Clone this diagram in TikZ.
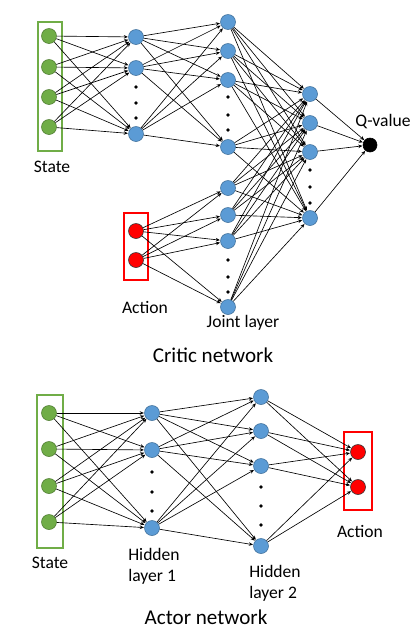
\documentclass[tikz,border=0pt]{standalone}
\usepackage{fontspec}
\setmainfont{Carlito}
\usetikzlibrary{arrows.meta,positioning}
\definecolor{nnGreen}{HTML}{70AD47}
\definecolor{nnGreenDark}{HTML}{507E32}
\definecolor{nnBlue}{HTML}{5B9BD5}
\definecolor{nnBlueDark}{HTML}{41719C}
\definecolor{nnRed}{HTML}{FF0000}

\begin{document}
\begin{tikzpicture}[
    x=0.03cm, y=-0.03cm,
    every node/.style={font=\fontsize{15}{18}\selectfont},
    neuron/.style={circle, minimum size=0.45cm, inner sep=0pt, line width=0.5pt},
    instate/.style={neuron, fill=nnGreen, draw=nnGreenDark},
    hidden/.style={neuron, fill=nnBlue, draw=nnBlueDark},
    act/.style={neuron, fill=nnRed, draw=black!80},
    qout/.style={neuron, minimum size=0.42cm, fill=black, draw=black},
    link/.style={-{Stealth[length=3.5pt,width=3pt]}, line width=0.55pt, shorten >=0.3pt},
    title/.style={font=\fontsize{18}{21}\selectfont},
    vdot/.style={fill=black},
  ]
  \useasboundingbox (0,0) rectangle (415,639);

  % ---------------- Critic network ----------------
  % State input
  \draw[nnGreen, line width=1.6pt] (38,22) rectangle (62,151);
  \foreach \y [count=\i] in {36,67,97,127}
    \node[instate] (cs\i) at (49,\y) {};
  % first hidden layer
  \foreach \y [count=\i] in {37,68,134}
    \node[hidden] (ch\i) at (136,\y) {};
  % joint layer (upper and lower part)
  \foreach \y [count=\i] in {22,51,80,147,188,215,241,307}
    \node[hidden] (cj\i) at (228,\y) {};
  % Action input
  \draw[nnRed, line width=1.6pt] (124,213) rectangle (148,280);
  \foreach \y [count=\i] in {231,260}
    \node[act] (ca\i) at (136,\y) {};
  % last hidden layer
  \foreach \y [count=\i] in {94,123,152,218}
    \node[hidden] (co\i) at (310,\y) {};
  \node[qout] (q) at (370,145) {};

  % vertical dots
  \foreach \x/\y in {136/87,136/103,136/118, 228/97,228/115,228/130,
                     228/260,228/277,228/292, 310/170,310/187,310/203}
    \fill[vdot] (\x,\y) circle (1.6pt);

  % connections
  \foreach \i in {1,...,4}
    \foreach \j in {1,...,3}
      \draw[link] (cs\i) -- (ch\j);
  \foreach \i in {1,...,3}
    \foreach \j in {1,...,4}
      \draw[link] (ch\i) -- (cj\j);
  \foreach \i in {1,2}
    \foreach \j in {5,...,8}
      \draw[link] (ca\i) -- (cj\j);
  \foreach \i in {1,...,8}
    \foreach \j in {1,...,4}
      \draw[link] (cj\i) -- (co\j);
  \foreach \i in {1,...,4}
    \draw[link] (co\i) -- (q);

  % labels
  \node (csLabel) at (52,167) {State};
  \node (caLabel) at (145,307) {Action};
  \node (cjLabel) at (243,323) {Joint layer};
  \node (qLabel) at (383,122) {Q-value};
  \node[title] (criticTitle) at (213,355) {Critic network};

  % ---------------- Actor network ----------------
  \draw[nnGreen, line width=1.6pt] (37,395) rectangle (63,548);
  \foreach \y [count=\i] in {413,449,486,522}
    \node[instate] (as\i) at (49,\y) {};
  \foreach \y [count=\i] in {413,450,528}
    \node[hidden] (ah\i) at (152,\y) {};
  \foreach \y [count=\i] in {397,431,466,546}
    \node[hidden] (ak\i) at (261,\y) {};
  \draw[nnRed, line width=1.6pt] (344,432) rectangle (372,510);
  \foreach \y [count=\i] in {452,487}
    \node[act] (aa\i) at (358,\y) {};

  \foreach \x/\y in {152/472,152/492,152/511, 261/487,261/506,261/525}
    \fill[vdot] (\x,\y) circle (1.6pt);

  \foreach \i in {1,...,4}
    \foreach \j in {1,...,3}
      \draw[link] (as\i) -- (ah\j);
  \foreach \i in {1,...,3}
    \foreach \j in {1,...,4}
      \draw[link] (ah\i) -- (ak\j);
  \foreach \i in {1,...,4}
    \foreach \j in {1,2}
      \draw[link] (ak\i) -- (aa\j);

  \node (asLabel) at (50,563) {State};
  \node[align=left] (ahLabel) at (154,566) {Hidden\\layer 1};
  \node[align=left] (akLabel) at (275,583) {Hidden\\layer 2};
  \node (aaLabel) at (360,531) {Action};
  \node[title] (actorTitle) at (206,617) {Actor network};
\end{tikzpicture}
\end{document}
